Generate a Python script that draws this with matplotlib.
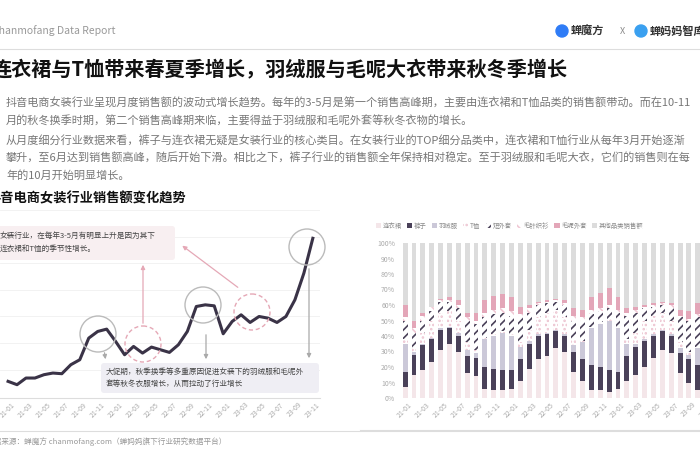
import matplotlib
matplotlib.use("Agg")
import matplotlib.pyplot as plt
from matplotlib.patches import Circle, FancyBboxPatch
import numpy as np

plt.rcParams['font.family'] = ['Noto Sans CJK SC', 'DejaVu Sans']
plt.rcParams['hatch.linewidth'] = 1.2

months = ["21-01","21-02","21-03","21-04","21-05","21-06","21-07","21-08","21-09","21-10","21-11","21-12",
          "22-01","22-02","22-03","22-04","22-05","22-06","22-07","22-08","22-09","22-10","22-11","22-12",
          "23-01","23-02","23-03","23-04","23-05","23-06","23-07","23-08","23-09","23-10","23-11"]
sales = [45,35,55,55,65,70,68,95,110,175,195,202,165,125,150,130,148,140,132,155,195,270,275,272,
         188,225,245,222,240,235,222,240,290,370,475]

categories = ["连衣裙","裤子","羽绒服","T恤","短外套","毛针织衫","毛呢外套","其他品类销售额"]
# cumulative share tops (%) per category, bottom to top
dress_top = [7,15,18,23,31,35,30,16,14,6,5,5,6,11,19,25,27,32,30,17,11,5,5,4,6,11,15,20,26,31,29,16,10,5,5]
pants_top = [17,28,34,38,44,45,40,27,26,20,19,18,18,25,35,40,41,43,40,30,25,21,20,18,17,27,33,37,40,43,40,29,25,21,20]
down_top = [35,30,35,39,45,46,42,31,29,38,40,42,40,33,37,41,42,44,41,34,36,45,48,50,45,35,35,38,41,44,41,32,28,32,35]
tshirt_top = [38,32,42,50,55,56,50,36,31,39,41,43,41,36,44,52,55,57,52,38,37,46,49,51,46,38,42,50,53,55,50,36,30,33,36]
jacket_top = [50,42,50,56,62,62,58,50,48,52,54,55,53,52,55,60,61,62,60,50,50,54,56,58,55,53,55,58,59,60,58,52,50,52,52]
knit_top = [52,45,53,59,63,63,60,52,50,55,57,58,56,54,58,61,62,63,61,53,52,57,58,60,57,55,57,59,60,61,60,53,51,54,54]
wool_top = [60,50,55,59,64,65,63,55,55,63,66,67,65,59,60,62,63,64,63,58,57,65,68,71,65,58,59,60,61,62,61,57,56,61,62]
other_top = [100]*35

fig = plt.figure(figsize=(7,4.7), dpi=100)
W, H = 700, 470
def fx(px): return px / W
def fy(py): return 1 - py / H

ov = fig.add_axes([0,0,1,1], zorder=0)
ov.set_xlim(0, W); ov.set_ylim(H, 0); ov.axis('off')

ov.text(-8, 31, "Chanmofang Data Report", fontsize=7.5, color='#999999', va='center')
ov.plot([0, 700], [49, 49], color='#dddddd', lw=0.8)
ov.add_patch(Circle((562, 31), 6, color='#2f7cf6'))
ov.text(571, 31, "蝉魔方", fontsize=8, fontweight='bold', color='#333333', va='center')
ov.text(620, 31, "X", fontsize=6.5, color='#888888', va='center')
ov.add_patch(Circle((641, 31), 6, color='#3aa0f0'))
ov.text(650, 31, "蝉妈妈智库", fontsize=8, fontweight='bold', color='#333333', va='center')

ov.text(-8, 70, "连衣裙与T恤带来春夏季增长，羽绒服与毛呢大衣带来秋冬季增长", fontsize=14.5,
        fontweight='bold', color='#111111', va='center')
para_c = '#777777'
fs = 8.0
ov.text(6, 103, "抖音电商女装行业呈现月度销售额的波动式增长趋势。每年的3-5月是第一个销售高峰期，主要由连衣裙和T恤品类的销售额带动。而在10-11",
        fontsize=fs, color=para_c, va='center')
ov.text(6, 121, "月的秋冬换季时期，第二个销售高峰期来临，主要得益于羽绒服和毛呢外套等秋冬衣物的增长。", fontsize=fs, color=para_c, va='center')
ov.text(6, 140, "从月度细分行业数据来看，裤子与连衣裙无疑是女装行业的核心类目。在女装行业的TOP细分品类中，连衣裙和T恤行业从每年3月开始逐渐",
        fontsize=fs, color=para_c, va='center')
ov.text(6, 157, "攀升，至6月达到销售额高峰，随后开始下滑。相比之下，裤子行业的销售额全年保持相对稳定。至于羽绒服和毛呢大衣，它们的销售则在每",
        fontsize=fs, color=para_c, va='center')
ov.text(6, 175, "年的10月开始明显增长。", fontsize=fs, color=para_c, va='center')
ov.text(-12, 198, "抖音电商女装行业销售额变化趋势", fontsize=9.5, fontweight='bold', color='#111111', va='center')

ov.plot([0, 700], [431, 431], color='#dddddd', lw=0.8)
ov.text(-14, 442, "数据来源：蝉魔方 chanmofang.com（蝉妈妈旗下行业研究数据平台）", fontsize=5.5, color='#999999', va='center')

# ---- line chart
ax = fig.add_axes([fx(0), fy(398), fx(320), (398-210)/H], zorder=1)
ax.patch.set_alpha(0)
x = np.arange(len(months))
ax.plot(x, sales, color='#3a3347', lw=2.2, zorder=3)
ax.set_xlim(-0.9, 34.8); ax.set_ylim(-5, 560)
ax.set_yticks([80, 160, 240, 320, 400, 480, 560])
ax.yaxis.grid(True, color='#f0f0f0', lw=0.6)
ax.set_yticklabels([]); ax.tick_params(axis='y', length=0)
ax.set_xticks(x[::2]); ax.set_xticklabels(months[::2], rotation=45, fontsize=5, color='#aaaaaa')
ax.tick_params(axis='x', length=0, pad=2)
for s in ['top','right','left']: ax.spines[s].set_visible(False)
ax.spines['bottom'].set_color('#dddddd')

# annotations
ov2 = fig.add_axes([0,0,1,1], zorder=2); ov2.set_xlim(0, W); ov2.set_ylim(H, 0); ov2.axis('off')
ov2.add_patch(FancyBboxPatch((-10, 226), 185, 34, boxstyle='round,pad=0,rounding_size=3', fc='#f8eff1', ec='none'))
ov2.text(0, 243, "女装行业，在每年3-5月有明显上升是因为其下\n连衣裙和T恤的季节性增长。", fontsize=5.5, color='#444444', va='center', linespacing=1.6)
ov2.add_patch(FancyBboxPatch((101, 363), 218, 30, boxstyle='round,pad=0,rounding_size=3', fc='#efeef4', ec='none'))
ov2.text(106, 378, "大促期，秋季换季等多重原因促进女装下的羽绒服和毛呢外\n套等秋冬衣服增长，从而拉动了行业增长", fontsize=5.5, color='#444444', va='center', linespacing=1.6)
for (cx, cy, dashed) in [(98, 334, False), (143, 344, True), (203, 305, False), (252, 312, True), (307, 247, False)]:
    ov2.add_patch(Circle((cx, cy), 18, fill=False, ec='#e5a8b6' if dashed else '#bbbbbb',
                         lw=1.0, ls=(0, (3, 2)) if dashed else '-'))
ap = dict(arrowstyle='-|>', color='#e5a8b6', lw=0.9, mutation_scale=6)
ov2.annotate('', xy=(143, 262), xytext=(143, 326), arrowprops=ap)
ov2.annotate('', xy=(180, 244), xytext=(240, 289), arrowprops=ap)
ag = dict(arrowstyle='-|>', color='#aaaaaa', lw=0.9, mutation_scale=6)
ov2.annotate('', xy=(106, 362), xytext=(104, 350), arrowprops=ag)
ov2.annotate('', xy=(206, 362), xytext=(206, 332), arrowprops=ag)
ov2.annotate('', xy=(309, 361), xytext=(309, 266), arrowprops=ag)

# ---- stacked bar chart
bx = fig.add_axes([fx(398), fy(398), fx(712-398), (398-243)/H], zorder=1)
tops = [dress_top, pants_top, down_top, tshirt_top, jacket_top, knit_top, wool_top, other_top]
styles = [dict(color='#f4e6e9'), dict(color='#4a4159'), dict(color='#cbc8d8'),
          dict(facecolor='white', edgecolor='#ecc2cf', hatch='....'),
          dict(facecolor='white', edgecolor='#4a4159', hatch='////'),
          dict(facecolor='white', edgecolor='#f0c8d4', hatch='\\\\\\\\'),
          dict(color='#e3a6b8'), dict(color='#dcdcdc')]
prev = np.zeros(len(months))
for cat, top, st in zip(categories, tops, styles):
    top = np.array(top, dtype=float)
    bx.bar(x, top - prev, bottom=prev, width=0.55, label=cat, lw=0, **st)
    prev = top
bx.set_xlim(-0.8, 34.6); bx.set_ylim(0, 100)
bx.set_yticks(range(0, 101, 10))
bx.set_yticklabels([f"{v}%" for v in range(0, 101, 10)], fontsize=5, color='#aaaaaa')
bx.set_xticks(x[::2]); bx.set_xticklabels(months[::2], rotation=45, fontsize=5, color='#aaaaaa')
bx.tick_params(length=0, pad=2)
for s in bx.spines.values(): s.set_visible(False)
leg = fig.legend(*bx.get_legend_handles_labels(), loc='center left', bbox_to_anchor=(fx(370), fy(226)),
                 ncol=8, fontsize=4.6, frameon=False, handlelength=0.8, handleheight=0.8,
                 columnspacing=0.8, handletextpad=0.3, labelcolor='#888888')
ov.plot([360, 700], [430, 430], color='#dddddd', lw=0.8)

fig.savefig("out.png", dpi=100)
